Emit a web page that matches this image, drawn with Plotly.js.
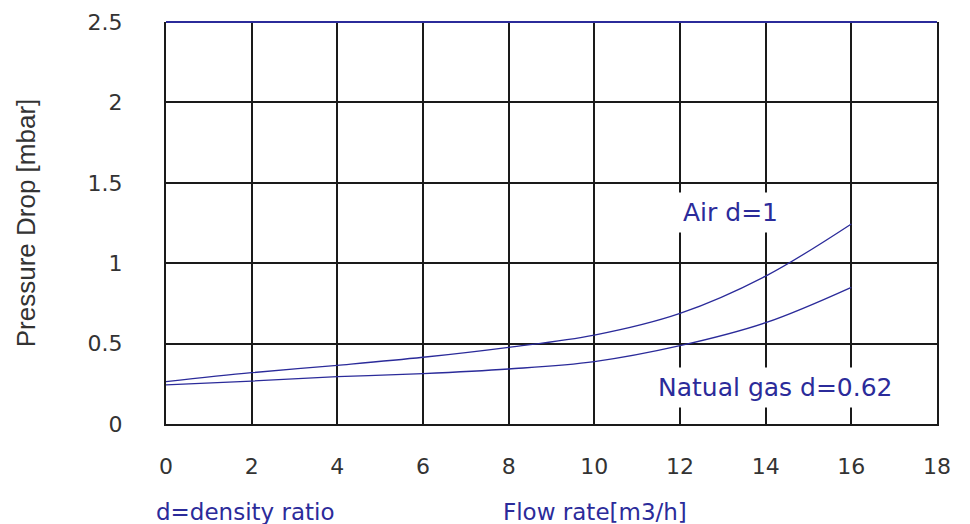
<!DOCTYPE html>
<html>
<head>
<meta charset="utf-8">
<script src="https://cdn.plot.ly/plotly-3.0.1.min.js"></script>
<style>html,body{margin:0;padding:0;background:#fff;}#chart{width:970px;height:524px;}</style>
</head>
<body>
<div id="chart"></div>
<script>
const flowRate = [0, 2, 4, 6, 8, 10, 12, 14, 16];
const airDrop = [0.263, 0.319, 0.365, 0.415, 0.477, 0.553, 0.688, 0.920, 1.244];
const gasDrop = [0.243, 0.267, 0.294, 0.313, 0.342, 0.388, 0.487, 0.630, 0.850];
const xTicks = [0, 2, 4, 6, 8, 10, 12, 14, 16, 18];
const yTicks = [0, 0.5, 1, 1.5, 2, 2.5];
const yTickText = ['0', '0.5', '1', '1.5', '2', '2.5'];

const lineColor = '#2b2b9a';
const traces = [
  {x: flowRate, y: airDrop, mode: 'lines', line: {color: lineColor, width: 1.3, shape: 'spline'}, name: 'Air d=1'},
  {x: flowRate, y: gasDrop, mode: 'lines', line: {color: lineColor, width: 1.3, shape: 'spline'}, name: 'Natual gas d=0.62'}
];

const txtFamily = 'DejaVu Sans, Verdana, sans-serif';
const tickFont = {family: txtFamily, size: 22, color: '#333'};
const annFont = {family: txtFamily, size: 23, color: lineColor};
const curveFont = {family: txtFamily, size: 25, color: lineColor};
const plotW = 970 - 166 - 33, plotH = 524 - 22 - 100;
const layout = {
  width: 970, height: 524,
  margin: {l: 166, r: 33, t: 22, b: 100},
  paper_bgcolor: '#fff', plot_bgcolor: '#fff',
  showlegend: false,
  xaxis: {
    range: [0, 18], tickvals: xTicks, ticktext: xTicks.map(String),
    showgrid: true, gridcolor: '#1a1a1a', gridwidth: 2,
    zeroline: false, showline: true, linecolor: '#1a1a1a', linewidth: 2,
    ticks: '', ticklabelstandoff: 22, tickfont: tickFont, fixedrange: true
  },
  yaxis: {
    range: [0, 2.5], tickvals: yTicks, ticktext: yTickText,
    showgrid: true, gridcolor: '#1a1a1a', gridwidth: 2,
    zeroline: false, showline: true, mirror: true, linecolor: '#1a1a1a', linewidth: 2,
    ticks: '', ticklabelstandoff: 37, tickfont: tickFont, fixedrange: true,
    title: {text: 'Pressure Drop [mbar]', standoff: 44,
      font: {family: 'Liberation Sans Narrow, Arial Narrow, Liberation Sans, sans-serif', size: 26, color: '#333'}}
  },
  shapes: [
    {type: 'line', xref: 'paper', yref: 'paper', x0: 0, x1: 1, y0: 1, y1: 1, line: {color: lineColor, width: 2}, layer: 'above'}
  ],
  annotations: [
    {x: 13.19, y: 1.318, xref: 'x', yref: 'y', text: 'Air d=1', showarrow: false, xanchor: 'center', yanchor: 'middle',
      font: curveFont, bgcolor: '#fff', borderpad: 5},
    {x: 14.24, y: 0.224, xref: 'x', yref: 'y', text: 'Natual gas d=0.62', showarrow: false, xanchor: 'center', yanchor: 'middle',
      font: curveFont, bgcolor: '#fff', borderpad: 5},
    {x: (245 - 166) / plotW, y: -(512 - 424) / plotH, xref: 'paper', yref: 'paper', text: 'd=density ratio', showarrow: false, xanchor: 'center', yanchor: 'middle', font: annFont},
    {x: (595 - 166) / plotW, y: -(512 - 424) / plotH, xref: 'paper', yref: 'paper', text: 'Flow rate[m3/h]', showarrow: false, xanchor: 'center', yanchor: 'middle', font: annFont}
  ]
};

Plotly.newPlot('chart', traces, layout, {displayModeBar: false, staticPlot: true});
</script>
</body>
</html>
